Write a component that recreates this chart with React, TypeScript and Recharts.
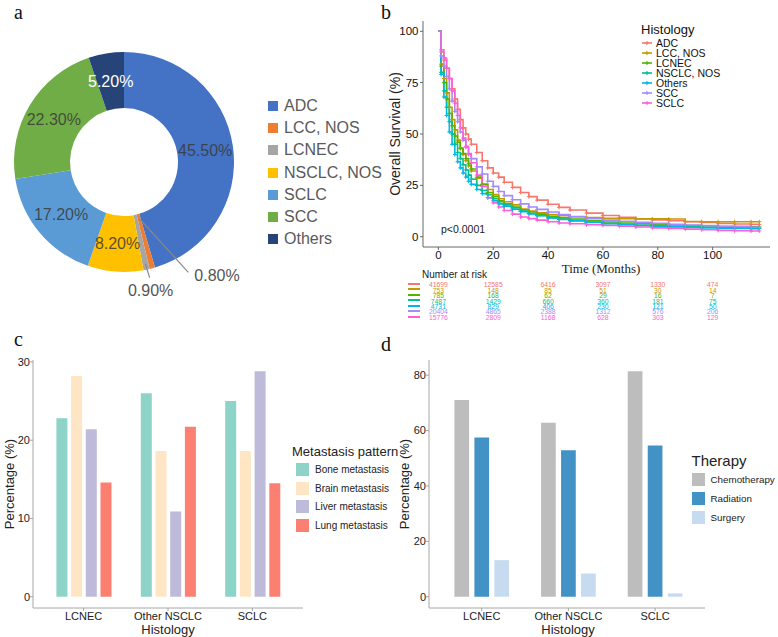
import React from 'react'
import {
  PieChart,
  Pie,
  Cell,
  Legend,
  LineChart,
  Line,
  XAxis,
  YAxis,
  ScatterChart,
  Scatter,
  BarChart,
  Bar,
} from 'recharts'

// a: histology distribution
const histNames = ['ADC', 'LCC, NOS', 'LCNEC', 'NSCLC, NOS', 'SCLC', 'SCC', 'Others']
const histShares = [45.5, 0.8, 0.9, 8.2, 17.2, 22.3, 5.2]
const histColors = ['#4472C4', '#ED7D31', '#A5A5A5', '#FFC000', '#5B9BD5', '#70AD47', '#264478']

// b: overall survival by histology
const kmNames = ['ADC', 'LCC, NOS', 'LCNEC', 'NSCLC, NOS', 'Others', 'SCC', 'SCLC']
const kmKeys = ['adc', 'lcc', 'lcnec', 'nsclc', 'others', 'scc', 'sclc']
const kmColors = ['#F8766D', '#C49A00', '#53B400', '#00C094', '#00B6EB', '#A58AFF', '#FB61D7']
const months = [0, 1, 2, 3, 4, 5, 6, 7, 8, 9, 10, 11, 12, 14, 16, 18, 20, 22, 24, 27, 30, 33, 36, 40, 44, 48, 54, 60, 66, 72, 78, 84, 90, 96, 102, 108, 114, 117]
const osADC = [100, 90, 86, 82, 77, 72, 67, 62, 57, 53, 50, 47.5, 45, 41, 37, 33.5, 31, 29, 26.5, 24, 21.5, 19.5, 17.8, 15.8, 14.3, 13, 11.5, 10.3, 9.4, 8.7, 8.2, 7.8, 7.3, 6.9, 6.5, 6.2, 6, 5.9]
const osLCC = [100, 84, 77, 70, 63, 57, 52, 47, 43, 40, 37, 34.5, 32, 28.5, 25.5, 23, 20.5, 18.5, 17, 15.5, 13.5, 12.5, 11.6, 10.8, 10.2, 9.7, 9.3, 9, 8.8, 8.7, 8.7, 8.6, 7.4, 7.3, 7.3, 7.3, 7.3, 7.3]
const osLCNEC = [100, 83, 75, 67, 60, 54, 49, 46, 43, 40.5, 38, 35.5, 33, 29, 25.5, 21.5, 19.5, 17.5, 16, 14.4, 13, 12, 11, 10, 9.2, 8.6, 7.8, 7.2, 6.7, 6.3, 6, 5.7, 5.4, 5.2, 5, 4.9, 4.8, 4.8]
const osNSCLC = [100, 80, 71, 63, 56, 50, 45, 41, 38, 35, 32.5, 30, 28, 25, 22.5, 20.5, 18.5, 17, 15.5, 14, 12.5, 11.3, 10.3, 9.3, 8.5, 7.9, 7.1, 6.5, 6, 5.6, 5.3, 5, 4.8, 4.6, 4.4, 4.3, 4.2, 4.2]
const osOthers = [100, 79, 68, 59, 51, 45, 40, 36.5, 33.5, 31, 29, 27, 25.5, 23, 21, 19, 17.5, 16, 14.8, 13.4, 12.2, 11.1, 10.2, 9.2, 8.4, 7.7, 6.9, 6.3, 5.8, 5.4, 5.1, 4.8, 4.5, 4.3, 4.1, 4, 3.9, 3.9]
const osSCC = [100, 88, 83, 78, 72, 66, 61, 56, 51, 47, 43.5, 40.5, 38, 34, 30.5, 27, 24.5, 22, 20, 18, 16, 14.5, 13.3, 12, 10.8, 9.8, 8.8, 8.1, 7.5, 7, 6.5, 6.1, 5.7, 5.4, 5.1, 4.9, 4.7, 4.6]
const osSCLC = [100, 91, 87, 82, 77, 71, 65, 59, 53, 48, 44, 40, 36, 30, 24.5, 19, 16.5, 14.5, 12.8, 11, 9.6, 8.8, 8.1, 7.3, 6.7, 6.3, 5.8, 5.5, 5.1, 4.7, 4.3, 4, 3.7, 3.4, 3.1, 2.9, 2.8, 2.8]

// number at risk
const riskMonths = [0, 20, 40, 60, 80, 100]
const riskADC = [41699, 12585, 6416, 3097, 1330, 474]
const riskLCC = [753, 148, 85, 51, 30, 14]
const riskLCNEC = [785, 168, 62, 29, 16, 7]
const riskNSCLC = [7487, 1429, 660, 360, 181, 75]
const riskOthers = [4731, 829, 406, 230, 121, 50]
const riskSCC = [20404, 4865, 2388, 1312, 576, 206]
const riskSCLC = [15776, 2809, 1168, 628, 303, 129]

// c: metastasis pattern
const histGroups = ['LCNEC', 'Other NSCLC', 'SCLC']
const metNames = ['Bone metastasis', 'Brain metastasis', 'Liver metastasis', 'Lung metastasis']
const metKeys = ['bone', 'brain', 'liver', 'lung']
const metColors = ['#8DD3C7', '#FEE6C4', '#BEBADA', '#FB8072']
const boneMet = [22.8, 26.0, 25.0]
const brainMet = [28.2, 18.6, 18.6]
const liverMet = [21.4, 10.9, 28.8]
const lungMet = [14.6, 21.7, 14.5]

// d: therapy
const therapyNames = ['Chemotherapy', 'Radiation', 'Surgery']
const therapyKeys = ['chemo', 'radiation', 'surgery']
const therapyColors = ['#BDBDBD', '#4292C6', '#C6DBEF']
const chemo = [71.0, 62.8, 81.4]
const radiation = [57.5, 52.9, 54.6]
const surgery = [13.2, 8.4, 1.2]

const sans = '"Liberation Sans", Arial, Helvetica, sans-serif'
const serif = '"Liberation Serif", "Times New Roman", serif'
const RAD = Math.PI / 180

const pieData = histNames.map((name, i) => ({ name, value: histShares[i] }))

const survSeries = [osADC, osLCC, osLCNEC, osNSCLC, osOthers, osSCC, osSCLC]
const survData = months.map((m, i) => {
  const row: any = { month: m }
  kmKeys.forEach((k, j) => (row[k] = survSeries[j][i]))
  return row
})

const riskRows = [riskADC, riskLCC, riskLCNEC, riskNSCLC, riskOthers, riskSCC, riskSCLC]

const metData = histGroups.map((g, i) => ({
  group: g,
  bone: boneMet[i],
  brain: brainMet[i],
  liver: liverMet[i],
  lung: lungMet[i],
}))

const therapyData = histGroups.map((g, i) => ({
  group: g,
  chemo: chemo[i],
  radiation: radiation[i],
  surgery: surgery[i],
}))

// small slices get a leader line, offsets from the slice's outer edge
const leader: Record<number, { lx: number; ly: number; tx: number; ty: number; anchor: string }> = {
  1: { lx: 36, ly: 4, tx: 42, ty: 7, anchor: 'start' },
  2: { lx: 3, ly: 8, tx: 4, ty: 21, anchor: 'middle' },
}

function pieLabel(p: any) {
  const { cx, cy, midAngle, innerRadius, outerRadius, index, value } = p
  const cos = Math.cos(-midAngle * RAD)
  const sin = Math.sin(-midAngle * RAD)
  const text = `${value.toFixed(2)}%`
  const l = leader[index]
  if (l) {
    const ox = cx + outerRadius * cos
    const oy = cy + outerRadius * sin
    const r0 = index === 1 ? innerRadius + 4 : outerRadius - 6
    return (
      <g key={`lbl-${index}`}>
        <polyline
          points={`${cx + r0 * cos},${cy + r0 * sin} ${ox + l.lx},${oy + l.ly}`}
          fill="none"
          stroke="#8a8a8a"
          strokeWidth={1.2}
        />
        <text x={ox + l.tx} y={oy + l.ty} textAnchor={l.anchor} dominantBaseline="central" fontSize={16} fill="#555" fontFamily={sans}>
          {text}
        </text>
      </g>
    )
  }
  const r = (innerRadius + outerRadius) / 2
  return (
    <text
      key={`lbl-${index}`}
      x={cx + r * cos}
      y={cy + r * sin}
      textAnchor="middle"
      dominantBaseline="central"
      fontSize={16}
      fontFamily={sans}
      fill={index === 6 ? '#ffffff' : '#3a3a3a'}
      fillOpacity={index === 6 ? 1 : 0.85}
    >
      {text}
    </text>
  )
}

function censorDot(color: string) {
  return (p: any) => {
    if (p.index === 0) return <g key={`c-${p.index}`} />
    return (
      <path
        key={`c-${p.index}`}
        d={`M${p.cx - 2},${p.cy}h4M${p.cx},${p.cy - 2}v4`}
        stroke={color}
        strokeWidth={1}
      />
    )
  }
}

function riskText(color: string) {
  return (p: any) => (
    <text x={p.cx} y={p.cy} textAnchor="middle" dominantBaseline="central" fontSize={6.8} fill={color} fontFamily={sans}>
      {p.payload.n}
    </text>
  )
}

function Txt({
  x,
  y,
  size,
  children,
  font = sans,
  rotate = false,
  center = true,
  color = '#222',
}: any) {
  return (
    <div
      style={{
        position: 'absolute',
        left: x,
        top: y,
        fontSize: size,
        fontFamily: font,
        color,
        lineHeight: 1.1,
        whiteSpace: 'nowrap',
        transform: `translate(${center ? '-50%' : '0'}, -50%)${rotate ? ' rotate(-90deg)' : ''}`,
      }}
    >
      {children}
    </div>
  )
}

function SwatchLegend({ title, titleSize, names, colors, rowH, indent, sw, itemSize }: any) {
  return (
    <div style={{ fontFamily: sans, color: '#222' }}>
      <div style={{ fontSize: titleSize, lineHeight: `${titleSize + 3}px`, whiteSpace: 'nowrap' }}>{title}</div>
      {names.map((n: string, i: number) => (
        <div key={n} style={{ display: 'flex', alignItems: 'center', height: rowH, paddingLeft: indent }}>
          <span style={{ width: sw, height: sw, background: colors[i], display: 'inline-block', marginRight: 6 }} />
          <span style={{ fontSize: itemSize, whiteSpace: 'nowrap' }}>{n}</span>
        </div>
      ))}
    </div>
  )
}

const axisGray = '#a6a6a6'

export default function App() {
  return (
    <div style={{ position: 'absolute', left: 0, top: 0, width: 778, height: 637, background: '#fff', overflow: 'hidden' }}>
      {/* panel letters */}
      <Txt x={14} y={12} size={20} font={serif} center={false} color="#111">a</Txt>
      <Txt x={381} y={12} size={20} font={serif} center={false} color="#111">b</Txt>
      <Txt x={14} y={339} size={20} font={serif} center={false} color="#111">c</Txt>
      <Txt x={381} y={344} size={20} font={serif} center={false} color="#111">d</Txt>

      {/* a: donut */}
      <div style={{ position: 'absolute', left: 0, top: 0 }}>
        <PieChart width={390} height={330} margin={{ top: 0, right: 0, bottom: 0, left: 0 }}>
          <Pie
            data={pieData}
            dataKey="value"
            cx={124}
            cy={162}
            innerRadius={54}
            outerRadius={110}
            startAngle={90}
            endAngle={-270}
            stroke="none"
            label={pieLabel}
            labelLine={false}
            isAnimationActive={false}
          >
            {pieData.map((d, i) => (
              <Cell key={d.name} fill={histColors[i]} />
            ))}
          </Pie>
          <Legend
            layout="vertical"
            align="center"
            verticalAlign="middle"
            wrapperStyle={{ left: 268, top: 95, width: 120 }}
            content={() => (
              <div style={{ fontFamily: sans }}>
                {histNames.map((n, i) => (
                  <div key={n} style={{ display: 'flex', alignItems: 'center', height: 22.2 }}>
                    <span style={{ width: 10, height: 10, background: histColors[i], display: 'inline-block', marginRight: 6 }} />
                    <span style={{ fontSize: 16, color: '#595959', whiteSpace: 'nowrap' }}>{n}</span>
                  </div>
                ))}
              </div>
            )}
          />
        </PieChart>
      </div>

      {/* b: Kaplan-Meier */}
      <div style={{ position: 'absolute', left: 390, top: 0 }}>
        <LineChart width={388} height={290} data={survData} margin={{ top: 21, right: 8, bottom: 13, left: 0 }}>
          <XAxis
            type="number"
            dataKey="month"
            domain={[-5.6, 120.9]}
            ticks={[0, 20, 40, 60, 80, 100]}
            height={30}
            tickSize={3}
            tickMargin={1}
            stroke="#666"
            tick={{ fill: '#111', fontSize: 11.5, fontFamily: sans }}
          />
          <YAxis
            type="number"
            domain={[-5, 105]}
            ticks={[0, 25, 50, 75, 100]}
            width={33}
            tickSize={3}
            tickMargin={1.5}
            stroke="#666"
            tick={{ fill: '#111', fontSize: 11.5, fontFamily: sans }}
          />
          {kmKeys.map((k, i) => (
            <Line
              key={k}
              type="stepAfter"
              dataKey={k}
              name={kmNames[i]}
              stroke={kmColors[i]}
              strokeWidth={1.6}
              dot={censorDot(kmColors[i])}
              activeDot={false}
              isAnimationActive={false}
            />
          ))}
          <Legend
            layout="vertical"
            align="center"
            verticalAlign="middle"
            wrapperStyle={{ left: 251, top: 22, width: 110 }}
            content={() => (
              <div style={{ fontFamily: sans, color: '#111' }}>
                <div style={{ fontSize: 13, lineHeight: '16px' }}>Histology</div>
                {kmNames.map((n, i) => (
                  <div key={n} style={{ display: 'flex', alignItems: 'center', height: 10 }}>
                    <svg width={14} height={10} style={{ marginLeft: 1 }}>
                      <line x1={0} y1={5} x2={10} y2={5} stroke={kmColors[i]} strokeWidth={1.6} />
                      <path d="M3,5h4M5,3v4" stroke={kmColors[i]} strokeWidth={1} />
                    </svg>
                    <span style={{ fontSize: 10.5, lineHeight: '10px', whiteSpace: 'nowrap' }}>{n}</span>
                  </div>
                ))}
              </div>
            )}
          />
        </LineChart>
      </div>
      <Txt x={395.5} y={134} size={14} rotate>Overall Survival (%)</Txt>
      <Txt x={601} y={268.5} size={13} font={serif}>Time (Months)</Txt>
      <Txt x={441} y={230} size={10.5} center={false}>p&lt;0.0001</Txt>
      <Txt x={422} y={274} size={10} center={false}>Number at risk</Txt>

      {/* number at risk table */}
      {kmColors.map((c, i) => (
        <div key={c} style={{ position: 'absolute', left: 408, top: 284 + i * 5.43 - 1, width: 12, height: 2, background: c }} />
      ))}
      <div style={{ position: 'absolute', left: 390, top: 282 }}>
        <ScatterChart width={388} height={38} margin={{ top: 0, right: 8, bottom: 0, left: 33 }}>
          <XAxis type="number" dataKey="month" domain={[-5.6, 120.9]} hide />
          <YAxis type="number" dataKey="row" domain={[-0.5, 6.5]} reversed hide />
          {riskRows.map((r, i) => (
            <Scatter
              key={kmKeys[i]}
              data={riskMonths.map((m, j) => ({ month: m, row: i, n: r[j] }))}
              shape={riskText(kmColors[i])}
              isAnimationActive={false}
            />
          ))}
        </ScatterChart>
      </div>

      {/* c: metastasis pattern */}
      <div style={{ position: 'absolute', left: 0, top: 330 }}>
        <BarChart
          width={390}
          height={307}
          data={metData}
          margin={{ top: 30, right: 87, bottom: 9, left: 0 }}
          barSize={11}
          barGap={3.7}
        >
          <XAxis
            dataKey="group"
            height={20}
            padding={{ left: 8.4, right: 8.4 }}
            tickSize={3}
            tickMargin={1}
            stroke={axisGray}
            tick={{ fill: '#222', fontSize: 11, fontFamily: sans }}
          />
          <YAxis
            type="number"
            domain={[-1.44, 30.24]}
            ticks={[0, 10, 20, 30]}
            width={33}
            tickSize={3}
            tickMargin={0}
            stroke={axisGray}
            tick={{ fill: '#222', fontSize: 11, fontFamily: sans }}
          />
          {metKeys.map((k, i) => (
            <Bar key={k} dataKey={k} name={metNames[i]} fill={metColors[i]} isAnimationActive={false} />
          ))}
          <Legend
            layout="vertical"
            align="center"
            verticalAlign="middle"
            wrapperStyle={{ left: 292, top: 114, width: 110 }}
            content={() => (
              <SwatchLegend title="Metastasis pattern" titleSize={13} names={metNames} colors={metColors} rowH={18.7} indent={4} sw={13} itemSize={10} />
            )}
          />
        </BarChart>
      </div>
      <Txt x={9.5} y={484} size={13} rotate>Percentage (%)</Txt>
      <Txt x={168} y={630} size={13}>Histology</Txt>

      {/* d: therapy */}
      <div style={{ position: 'absolute', left: 390, top: 330 }}>
        <BarChart
          width={388}
          height={307}
          data={therapyData}
          margin={{ top: 30, right: 73, bottom: 9, left: 0 }}
          barSize={14.7}
          barGap={5.3}
        >
          <XAxis
            dataKey="group"
            height={20}
            padding={{ left: 9.4, right: 6.6 }}
            tickSize={3}
            tickMargin={1}
            stroke={axisGray}
            tick={{ fill: '#222', fontSize: 11, fontFamily: sans }}
          />
          <YAxis
            type="number"
            domain={[-4.07, 85.47]}
            ticks={[0, 20, 40, 60, 80]}
            width={39}
            tickSize={3}
            tickMargin={0}
            stroke={axisGray}
            tick={{ fill: '#222', fontSize: 11, fontFamily: sans }}
          />
          {therapyKeys.map((k, i) => (
            <Bar key={k} dataKey={k} name={therapyNames[i]} fill={therapyColors[i]} isAnimationActive={false} />
          ))}
          <Legend
            layout="vertical"
            align="center"
            verticalAlign="middle"
            wrapperStyle={{ left: 301.5, top: 121.5, width: 86 }}
            content={() => (
              <SwatchLegend title="Therapy" titleSize={15} names={therapyNames} colors={therapyColors} rowH={19} indent={0} sw={13} itemSize={9.8} />
            )}
          />
        </BarChart>
      </div>
      <Txt x={405} y={484} size={13} rotate>Percentage (%)</Txt>
      <Txt x={568} y={630} size={13}>Histology</Txt>
    </div>
  )
}
